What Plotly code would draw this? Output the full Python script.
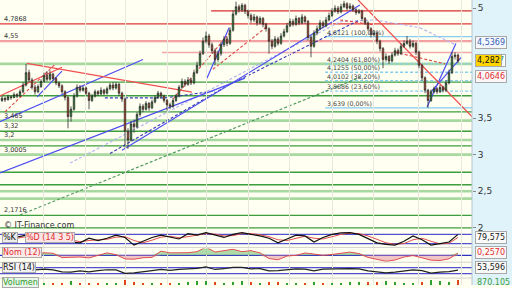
import plotly.graph_objects as go
import numpy as np

# ---------------- data ----------------
opens = [3.74,3.77,3.75,3.79,3.78,3.82,3.80,3.86,3.95,4.12, 4.02,3.92,3.86,3.93,4.00,4.08,4.03,4.10,4.04,3.98,
         3.94,3.86,3.78,3.52,3.62,3.80,3.92,3.88,3.91,3.84, 3.74,3.80,3.86,3.83,3.88,3.84,3.90,3.95,3.91,3.96,
         3.84,3.76,3.32,3.20,3.42,3.38,3.55,3.66,3.62,3.70, 3.64,3.72,3.78,3.84,3.80,3.74,3.68,3.66,3.74,3.80,
         3.92,4.00,3.96,4.02,3.98,4.12,4.22,4.38,4.55,4.62, 4.50,4.42,4.30,4.38,4.50,4.58,4.52,4.70,4.92,5.02,
         4.98,5.04,4.96,4.90,4.84,4.88,4.80,4.86,4.78,4.72, 4.55,4.48,4.58,4.52,4.62,4.68,4.76,4.82,4.78,4.86,
         4.80,4.88,4.82,4.60,4.48,4.66,4.72,4.80,4.76,4.84, 4.90,4.96,5.00,4.95,5.02,5.06,5.00,5.03,4.98,4.94,
         4.96,4.86,4.80,4.72,4.64,4.66,4.55,4.45,4.30,4.34, 4.28,4.36,4.42,4.38,4.48,4.52,4.55,4.48,4.52,4.40,
         4.22,4.05,3.88,3.74,3.86,3.90,3.86,3.92,3.88,3.98, 4.12,4.34,4.36]
highs = [3.80,3.79,3.82,3.81,3.85,3.84,3.89,3.99,4.24,4.16, 4.05,3.95,3.96,4.03,4.12,4.14,4.15,4.12,4.06,4.00,
         3.96,3.88,3.80,3.66,3.84,3.96,3.95,3.94,3.93,3.86, 3.83,3.89,3.88,3.92,3.90,3.93,3.98,3.99,3.99,3.98,
         3.86,3.78,3.36,3.46,3.48,3.58,3.70,3.69,3.73,3.72, 3.75,3.81,3.87,3.86,3.82,3.76,3.71,3.77,3.83,3.95,
         4.04,4.03,4.06,4.05,4.16,4.27,4.42,4.60,4.68,4.65, 4.53,4.45,4.42,4.54,4.62,4.61,4.74,4.97,5.09,5.05,
         5.07,5.06,4.98,4.93,4.92,4.90,4.89,4.88,4.80,4.74, 4.58,4.62,4.61,4.66,4.72,4.80,4.86,4.85,4.90,4.88,
         4.92,4.90,4.84,4.63,4.70,4.76,4.84,4.83,4.88,4.94, 5.00,5.04,5.03,5.06,5.10,5.08,5.07,5.05,5.00,4.99,
         4.98,4.88,4.82,4.74,4.70,4.68,4.57,4.47,4.38,4.36, 4.40,4.46,4.45,4.52,4.56,4.62,4.58,4.56,4.54,4.42,
         4.24,4.07,3.90,3.89,3.93,3.92,3.95,3.94,4.02,4.16, 4.40,4.40,4.38]
lows = [3.72,3.72,3.74,3.75,3.77,3.77,3.79,3.84,3.93,3.99, 3.89,3.82,3.84,3.91,3.98,4.00,4.01,4.01,3.95,3.91,
        3.83,3.74,3.36,3.45,3.60,3.78,3.85,3.86,3.81,3.62, 3.72,3.78,3.80,3.81,3.81,3.82,3.88,3.88,3.89,3.80,
        3.72,3.10,3.08,3.18,3.30,3.36,3.52,3.58,3.60,3.60, 3.62,3.70,3.76,3.77,3.71,3.60,3.62,3.64,3.72,3.78,
        3.90,3.93,3.94,3.95,3.96,4.10,4.20,4.36,4.52,4.46, 4.38,4.22,4.27,4.35,4.47,4.48,4.50,4.68,4.90,4.94,
        4.95,4.92,4.86,4.80,4.81,4.76,4.78,4.74,4.68,4.38, 4.44,4.46,4.49,4.50,4.60,4.66,4.74,4.75,4.76,4.77,
        4.78,4.79,4.56,4.33,4.46,4.63,4.70,4.73,4.74,4.82, 4.88,4.94,4.92,4.93,5.00,4.97,4.98,4.95,4.91,4.92,
        4.83,4.77,4.69,4.60,4.61,4.51,4.41,4.18,4.27,4.24, 4.26,4.34,4.35,4.36,4.46,4.50,4.45,4.46,4.36,4.18,
        4.01,3.84,3.64,3.72,3.84,3.83,3.84,3.85,3.86,3.96, 4.10,4.30,4.25]
closes = [3.77,3.75,3.79,3.78,3.82,3.80,3.86,3.95,4.12,4.02, 3.92,3.86,3.93,4.00,4.08,4.03,4.10,4.04,3.98,3.94,
          3.86,3.78,3.52,3.62,3.80,3.92,3.88,3.91,3.84,3.74, 3.80,3.86,3.83,3.88,3.84,3.90,3.95,3.91,3.96,3.84,
          3.76,3.32,3.20,3.42,3.38,3.55,3.66,3.62,3.70,3.64, 3.72,3.78,3.84,3.80,3.74,3.68,3.66,3.74,3.80,3.92,
          4.00,3.96,4.02,3.98,4.12,4.22,4.38,4.55,4.62,4.50, 4.42,4.30,4.38,4.50,4.58,4.52,4.70,4.92,5.02,4.98,
          5.04,4.96,4.90,4.84,4.88,4.80,4.86,4.78,4.72,4.55, 4.48,4.58,4.52,4.62,4.68,4.76,4.82,4.78,4.86,4.80,
          4.88,4.82,4.60,4.48,4.66,4.72,4.80,4.76,4.84,4.90, 4.96,5.00,4.95,5.02,5.06,5.00,5.03,4.98,4.94,4.96,
          4.86,4.80,4.72,4.64,4.66,4.55,4.45,4.30,4.34,4.28, 4.36,4.42,4.38,4.48,4.52,4.55,4.48,4.52,4.40,4.22,
          4.05,3.88,3.74,3.86,3.90,3.86,3.92,3.88,3.98,4.12, 4.34,4.36,4.28]

ind_idx = list(range(2, 153, 3))
stoch_k = [50,60,75,70,45,70,55,30,25,55, 40,55,75,60,10,35,60,75,60,50, 85,75,92,75,60,80,92,80,70,55,
           25,50,75,70,30,60,80,90,92,80, 55,25,15,10,35,70,45,10,20,30, 80]
stoch_d = [52,55,65,70,60,58,60,45,32,40, 45,48,62,65,40,25,42,62,68,58, 65,75,85,82,70,72,85,85,78,65,
           45,40,55,68,55,50,65,80,88,85, 70,45,25,15,20,45,55,35,18,22, 60]
momentum = [0.04,0.06,0.35,0.10,0.29,0.24,-0.26,-0.24,-0.20,-0.30, -0.03,0.28,0.08,-0.42,-0.45,-0.28,-0.24,0.48,0.28,0.30,
            0.30,0.42,0.96,0.38,0.56,0.70,0.42,0.54,0.28,-0.37, -0.52,-0.08,0.00,0.27,0.14,0.00,0.10,0.20,0.37,0.20,
            -0.24,-0.47,-0.69,-0.54,-0.20,-0.03,-0.29,-0.56,-0.60,-0.40, 0.257]
rsi = [50,52,65,55,60,55,42,40,48,42, 50,56,55,32,35,45,50,58,52,58, 60,66,75,58,63,72,72,62,64,48,
       50,58,62,60,48,60,62,66,64,62, 48,42,35,40,50,55,50,34,40,44, 54]
volume = [300,250,500,350,280,300,420,700,400,380, 300,320,280,900,600,450,350,380,300,420,
          500,650,800,500,450,600,700,480,400,550, 600,420,380,450,500,380,400,450,520,480,
          500,600,700,550,450,420,500,900,650,500, 870]

price_ticks = [2, 2.5, 3, 3.5, 5]
grid_idx = [13.67, 27.67, 41, 55, 68.33, 82.33, 95.67, 110, 123.67, 138.67, 153]

red_levels = [4.964, 4.7868, 4.55, 4.396]
red_from = [69.7, -1, -1, 53.3]
green_dark = [3.99, 3.805, 3.585, 3.32, 3.12, 2.76, 2.59, 2.1716, 2.0]
green_light = [4.2404, 3.465, 3.2, 3.0005, 2.50, 2.40]
level_labels = ["4,7868", "4,55", "3,465", "3,32", "3,2", "3,0005", "2,1716"]
level_label_vals = [4.7868, 4.55, 3.465, 3.32, 3.2, 3.0005, 2.1716]

fib_draw = [4.612, 4.2404, 4.1255, 4.0102, 3.8686, 3.639]
fib_text = ["4,8121 (100,00%)", "4,2404 (61,80%)", "4,1255 (50,00%)", "4,0102 (38,20%)",
            "3,8686 (23,60%)", "3,639 (0,00%)"]
fib_from = 107.7

# trend lines (index, price) polylines
blue_solid = [([-0.7, 47.0], [3.45, 4.30]), ([11.7, 20.0], [3.79, 4.14]), ([40.0, 119.3], [3.06, 5.045]),
              ([-0.7, 81.0], [2.75, 4.045]), ([68.3, 75.7], [4.045, 4.734]),
              ([141.7, 151.3], [3.65, 4.517]), ([143.3, 153.3], [3.87, 4.34])]
red_solid = [([8.3, 63.3], [4.247, 3.855]), ([-0.7, 20.0], [3.80, 4.193]), ([118.7, 156.7], [5.112, 3.517])]
red_dash = [([1.0, 17.7], [3.585, 4.234]), ([57.0, 76.0], [3.76, 4.665]), ([70.3, 88.3], [4.166, 4.747]),
            ([112.7, 123.7], [4.84, 4.774]), ([131.0, 147.7], [4.40, 4.24])]
green_dash = [([6.0, 119.3], [2.177, 4.055])]
navy_dash = [([34.3, 54.3, 71.0], [3.775, 3.775, 3.87]), ([36.0, 76.0, 119.3], [3.017, 3.96, 4.84])]
lav_dash = [([22.7, 112.7], [2.885, 4.815]), ([112.7, 124.3, 139.3, 151.0], [4.815, 4.84, 4.734, 4.504])]

X0, X1 = -0.667, 156.667
XD = 472 / 512
FONT = "DejaVu Sans"

fig = go.Figure()
fig.add_trace(go.Candlestick(
    x=list(range(len(closes))), open=opens, high=highs, low=lows, close=closes,
    xaxis='x', yaxis='y', whiskerwidth=0, hoverinfo='skip', showlegend=False,
    increasing=dict(line=dict(color='#2b2b2b', width=0.8), fillcolor='#2fa12f'),
    decreasing=dict(line=dict(color='#2b2b2b', width=0.8), fillcolor='#e2441c')))

fig.add_trace(go.Scatter(x=ind_idx, y=stoch_d, yaxis='y2', mode='lines',
                         line=dict(color='#e05050', width=1), hoverinfo='skip', showlegend=False))
fig.add_trace(go.Scatter(x=ind_idx, y=stoch_k, yaxis='y2', mode='lines',
                         line=dict(color='#111111', width=1.2), hoverinfo='skip', showlegend=False))
m = np.array(momentum)
fig.add_trace(go.Scatter(x=ind_idx, y=np.clip(m, 0, None), yaxis='y3', mode='lines', fill='tozeroy',
                         fillcolor='rgba(110,190,110,0.55)', line=dict(width=0), hoverinfo='skip', showlegend=False))
fig.add_trace(go.Scatter(x=ind_idx, y=np.clip(m, None, 0), yaxis='y3', mode='lines', fill='tozeroy',
                         fillcolor='rgba(230,150,160,0.55)', line=dict(width=0), hoverinfo='skip', showlegend=False))
fig.add_trace(go.Scatter(x=ind_idx, y=momentum, yaxis='y3', mode='lines',
                         line=dict(color='#e05050', width=1), hoverinfo='skip', showlegend=False))
fig.add_trace(go.Scatter(x=ind_idx, y=rsi, yaxis='y4', mode='lines',
                         line=dict(color='#222222', width=1.2), hoverinfo='skip', showlegend=False))
vcol = ['#2fa12f' if closes[i] >= opens[i] else '#e2441c' for i in ind_idx]
fig.add_trace(go.Bar(x=ind_idx, y=volume, yaxis='y5', marker=dict(color=vcol, line=dict(width=0)),
                     width=0.6, hoverinfo='skip', showlegend=False))

shapes = []
def seg(x0, y0, x1, y1, color, width, dash='solid', yref='y', xref='x'):
    shapes.append(dict(type='line', xref=xref, yref=yref, x0=x0, x1=x1, y0=y0, y1=y1,
                       line=dict(color=color, width=width, dash=dash), layer='below'))

for v in green_light:
    seg(X0, v, X1, v, '#a6d8a0', 2.6)
for v in green_dark:
    seg(X0, v, X1, v, '#3c9e3c', 1.4)
red_style = [('#d83030', 1.1), ('#e03a3a', 1.2), ('#f2a0a0', 2.2), ('#f0a8a8', 1.6)]
for v, f, (c, w) in zip(red_levels, red_from, red_style):
    seg(f, v, X1, v, c, w)
for k, v in enumerate(fib_draw):
    solid = k in (0, 5)
    seg(fib_from, v, X1, v, '#86cdf0', 1.3, 'solid' if solid else '3px,2px')

def poly(lst, color, width, dash):
    for xs, ys in lst:
        for a in range(len(xs) - 1):
            seg(xs[a], ys[a], xs[a + 1], ys[a + 1], color, width, dash)

poly(lav_dash, '#b4b4ee', 1.2, '3px,2px')
poly(green_dash, '#4f9a5f', 1.2, '3px,2px')
poly(navy_dash, '#3a3ab8', 1.1, '3px,2px')
poly(red_dash, '#e04848', 1.1, '3px,2px')
poly(blue_solid, '#4d4df0', 1.2, 'solid')
poly(red_solid, '#f05050', 1.2, 'solid')

# indicator reference lines
for v in (80, 20):
    seg(X0, v, X1, v, '#5050d0', 1.2, yref='y2')
seg(X0, 0, X1, 0, '#3030c8', 1.2, yref='y3')
for v in (70, 30):
    seg(X0, v, X1, v, '#5050d0', 1.2, yref='y4')

# right column & separators
shapes.append(dict(type='rect', xref='paper', yref='paper', x0=XD, x1=1, y0=0, y1=1,
                   fillcolor='#e0f2fa', line=dict(width=0), layer='below'))
shapes.append(dict(type='line', xref='paper', yref='paper', x0=XD, x1=XD, y0=0, y1=1,
                   line=dict(color='#b8c4cc', width=1)))
for yy in (0.1319, 0.0799, 0.0243):
    shapes.append(dict(type='line', xref='paper', yref='paper', x0=0, x1=XD, y0=yy, y1=yy,
                       line=dict(color='#d4d4cc', width=1)))

ann = []
def text(x, y, s, xref='paper', yref='y', size=7, color='#333', xanchor='left', yanchor='middle', **kw):
    ann.append(dict(x=x, y=y, xref=xref, yref=yref, text=s, showarrow=False, xanchor=xanchor,
                    yanchor=yanchor, font=dict(family=FONT, size=size, color=color), **kw))

for s, v in zip(level_labels, level_label_vals):
    text(0.004, v, s, size=6.5, color='#333', yanchor='bottom', yshift=-1)
for s, v in zip(fib_text, fib_draw):
    text(fib_from, v, s, xref='x', size=6.3, color='#444', yanchor='bottom', yshift=-1)

box = dict(bordercolor='#a8a8a8', borderwidth=1, borderpad=1)
text(0.927, 4.5369, '4,5369', size=8, color='#3a5fb8', bgcolor='#f3f7fb', **box)
text(0.971, 4.287, '7', size=8, color='#2a9a2a', bgcolor='#ffffff', **box)
text(0.927, 4.282, '4,282', size=8, color='#111', bgcolor='#ffd400', **box)
text(0.927, 4.0646, '4,0646', size=8, color='#e03030', bgcolor='#fbf7f7', **box)
text(0.927, 1 - 240 / 288, '79,575', yref='paper', size=8, color='#222', bgcolor='#fafafa', **box)
text(0.927, 1 - 255 / 288, '0,2570', yref='paper', size=8, color='#e03030', bgcolor='#fbf7f7', **box)
text(0.927, 1 - 270 / 288, '53,596', yref='paper', size=8, color='#222', bgcolor='#fafafa', **box)
text(0.927, 1 - 285 / 288, '870.105', yref='paper', size=8, color='#3aa03a')

text(0.004, 1 - 228 / 288, '© IT-Finance.com', yref='paper', size=8, color='#333')
text(0.004, 1 - 240 / 288, '%K', yref='paper', size=8, color='#111', bgcolor='#ececec',
     bordercolor='#aaa', borderwidth=1, borderpad=0)
text(0.049, 1 - 240 / 288, '%D (14 3 5)', yref='paper', size=8, color='#e03030', bgcolor='#fbe4e4',
     bordercolor='#aaa', borderwidth=1, borderpad=0)
text(0.004, 1 - 255 / 288, 'Nom (12)', yref='paper', size=8, color='#e03030', bgcolor='#fbeaea',
     bordercolor='#aaa', borderwidth=1, borderpad=0)
text(0.004, 1 - 270 / 288, 'RSI (14)', yref='paper', size=8, color='#111', bgcolor='#f2f2f2',
     bordercolor='#aaa', borderwidth=1, borderpad=0)
text(0.004, 1 - 285 / 288, 'Volumen', yref='paper', size=8, color='#2a9a2a', bgcolor='#eaf6ea',
     bordercolor='#aaa', borderwidth=1, borderpad=0)

sub = dict(anchor='x', showticklabels=False, showgrid=False, zeroline=False, showline=False, ticks='')
fig.update_layout(
    width=512, height=288, margin=dict(l=0, r=0, t=0, b=0),
    paper_bgcolor='#fffff2', plot_bgcolor='#fffff2', separators=',.',
    showlegend=False, bargap=0,
    xaxis=dict(domain=[0, XD], range=[X0, X1], rangeslider=dict(visible=False), showticklabels=False,
               tickvals=grid_idx, showgrid=True, gridcolor='#e8e8de', gridwidth=1, zeroline=False, ticks=''),
    yaxis=dict(domain=[1 - 232 / 288, 1], range=[1.977, 5.112], side='right', anchor='x',
               tickvals=price_ticks, ticks='outside', ticklen=3, tickcolor='#888',
               tickfont=dict(family=FONT, size=9, color='#333'), showgrid=False, zeroline=False),
    yaxis2=dict(domain=[1 - 250 / 288, 1 - 233 / 288], range=[-5, 105], **sub),
    yaxis3=dict(domain=[1 - 265 / 288, 1 - 251 / 288], range=[-0.8, 0.8], **sub),
    yaxis4=dict(domain=[1 - 281 / 288, 1 - 266 / 288], range=[0, 100], **sub),
    yaxis5=dict(domain=[0, 1 - 282 / 288], range=[0, 1100], **sub),
    shapes=shapes, annotations=ann,
)
fig.write_html("out.html")
